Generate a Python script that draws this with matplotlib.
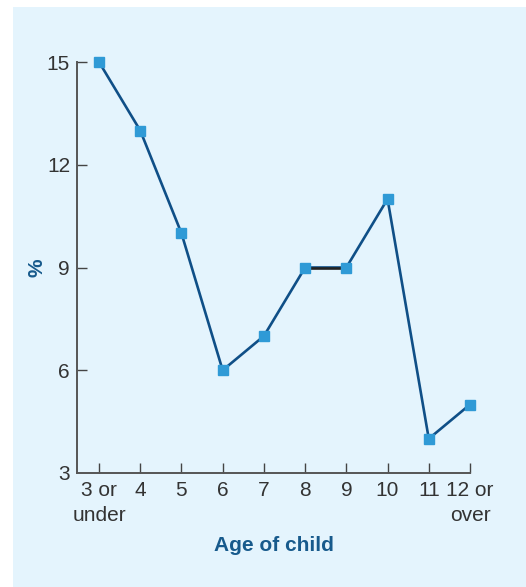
import matplotlib as mpl
mpl.use('Agg')
import matplotlib.pyplot as plt
from matplotlib.patches import Rectangle

plt.rcParams['font.family'] = ['Liberation Sans', 'DejaVu Sans']

ages = ['3 or\nunder', '4', '5', '6', '7', '8', '9', '10', '11', '12 or\nover']
percent = [15, 13, 10, 6, 7, 9, 9, 11, 4, 5]
yticks = [3, 6, 9, 12, 15]

bg = '#e4f4fd'
line_col = '#0f4f87'
mark_col = '#2f9ad6'
text_col = '#333333'
title_col = '#175a8c'

fig = plt.figure(figsize=(5.26, 5.87), dpi=100)
fig.patches.append(Rectangle((13 / 526, 0), 1 - 13 / 526, 1 - 7 / 587,
                             transform=fig.transFigure, facecolor=bg,
                             edgecolor='none', zorder=-10))

ax = fig.add_axes([77 / 526, 114 / 587, 393 / 526, 411 / 587])
ax.set_facecolor('none')

x = list(range(len(ages)))
ax.plot(x, percent, color=line_col, lw=1.9, zorder=2)
# flat stretch between 8 and 9 is drawn in black
ax.plot(x[5:7], percent[5:7], color='#222222', lw=1.9, zorder=3)
ax.plot(x, percent, ls='none', marker='s', ms=6.5, color=mark_col, zorder=4,
        clip_on=False)

ax.set_xlim(-0.534, 9)
ax.set_ylim(3, 15)
ax.set_xticks(x)
ax.set_xticklabels(ages, linespacing=1.35)
ax.set_yticks(yticks)

for s in ('top', 'right'):
    ax.spines[s].set_visible(False)
for s in ('left', 'bottom'):
    ax.spines[s].set_color('#555555')
    ax.spines[s].set_linewidth(1.4)

ax.tick_params(axis='both', direction='in', length=7, width=1,
               color='#444444', labelcolor=text_col, labelsize=15)
ax.tick_params(axis='x', pad=6)
ax.tick_params(axis='y', pad=5)
ax.yaxis.get_major_ticks()[0].tick1line.set_visible(False)

ax.set_xlabel('Age of child', fontsize=15, fontweight='bold', color=title_col,
              labelpad=8)
ax.set_ylabel('%', fontsize=15, fontweight='bold', color=title_col,
              labelpad=0.5)

fig.savefig('out.png', dpi=100)
